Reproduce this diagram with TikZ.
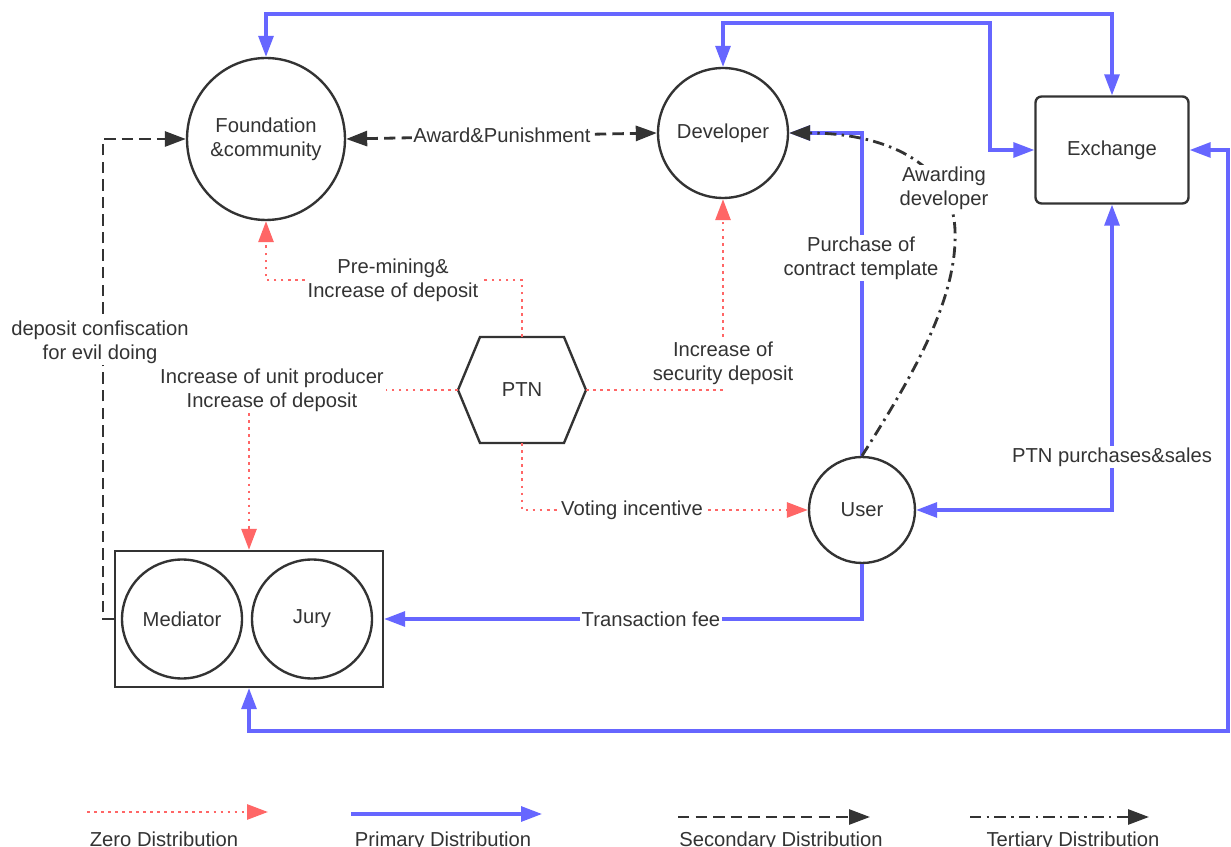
\documentclass[tikz,border=0pt]{standalone}
\usepackage{fontspec}
\setmainfont{Liberation Sans}
\usetikzlibrary{arrows.meta,shapes.geometric}
\definecolor{zred}{HTML}{FF6666}
\definecolor{pblue}{HTML}{6666FF}
\definecolor{ink}{HTML}{333333}
\begin{document}
\begin{tikzpicture}[x=0.02cm,y=-0.02cm,
  font=\fontsize{11.5}{13.6}\selectfont, text=ink,
  >={Triangle[length=0.42cm,width=0.3cm]},
  zero/.style={draw=zred, line width=1.6pt, dash pattern=on 1.6pt off 2.4pt},
  prim/.style={draw=pblue, line width=1.75pt},
  sec/.style={draw=ink, line width=1.6pt, dash pattern=on 6.5pt off 3.5pt},
  ter/.style={draw=ink, line width=1.6pt, dash pattern=on 6.5pt off 3pt on 1.4pt off 3pt},
  ent/.style={draw=ink, line width=1.35pt, align=center},
  lbl/.style={fill=white, inner sep=1pt, align=center}]
\useasboundingbox (0,0) rectangle (1231,847);
\clip (0,0) rectangle (1231,847);
\fill[white] (0,0) rectangle (1231,847);

% entities
\node[ent, ellipse, inner sep=0pt, minimum width=3.16cm, minimum height=3.24cm] (fnd) at (266,139) {Foundation\\\&community};
\node[ent, circle, minimum size=2.6cm] (dev) at (723,133) {Developer};
\node[ent, rounded corners=0.12cm, minimum width=3.06cm, minimum height=2.14cm] (exch) at (1112,150) {Exchange};
\node[minimum width=2.56cm, minimum height=2.12cm, inner sep=0] (ptn) at (522,390) {PTN};
\draw[ent] (458,390) -- (480,337) -- (564,337) -- (586,390) -- (564,443) -- (480,443) -- cycle;
\node[ent, circle, minimum size=2.12cm] (user) at (862,510) {User};
\node[ent, minimum width=5.36cm, minimum height=2.72cm] (box) at (249,619) {};
\node[ent, ellipse, inner sep=0pt, minimum width=2.4cm, minimum height=2.38cm] (med) at (182,619) {Mediator};
\node[ent, ellipse, inner sep=0pt, minimum width=2.4cm, minimum height=2.38cm] (jury) at (312,619) {Jury};

% primary distribution (blue)
\draw[prim,<->] (fnd.north) |- (1112,14) -- (exch.north);
\draw[prim,<->] (dev.north) |- (990,23) |- (exch.west);
\draw[prim,<->] (exch.east) -| (1228,731) -| (box.south);
\draw[prim,<->] (exch.south) |- (user.east);
\node[lbl] (lps) at (1112,457) {PTN purchases\&sales};
\draw[prim,->] (user.north) |- (dev.east);
\node[lbl] (lpc) at (861,258) {Purchase of\\contract template};
\draw[prim,->] (user.south) |- (box.east);
\node[lbl] (ltf) at (651,619) {Transaction fee};

% tertiary distribution
\draw[ter,->] (user.north) .. controls (910,380) and (958,300) .. (955,230)
   .. controls (952,160) and (880,133) .. (dev.east);
\node[lbl] (lad) at (944,188) {Awarding\\developer};

% secondary distribution
\draw[sec,<->] (fnd.east) -- (dev.west);
\node[lbl] (lap) at (502,135) {Award\&Punishment};
\draw[sec,->] (box.west) -- (103,619) |- (fnd.west);
\node[lbl] (ldc) at (100,342) {deposit confiscation\\for evil doing};

% zero distribution (red)
\draw[zero,->] (ptn.north) -- (522,280) -| (fnd.south);
\node[lbl] (lpm) at (393,280) {Pre-mining\&\\Increase of deposit};
\draw[zero,->] (ptn.east) -| (dev.south);
\node[lbl] (lsd) at (723,363) {Increase of\\security deposit};
\draw[zero,->] (ptn.west) -| (box.north);
\node[lbl] (lup) at (272,390) {Increase of unit producer\\Increase of deposit};
\draw[zero,->] (ptn.south) |- (user.west);
\node[lbl] (lvi) at (632,510) {Voting incentive};

% legend
\coordinate (za) at (87,812);  \coordinate (zb) at (268,812);
\coordinate (pa) at (351,814); \coordinate (pb) at (542,814);
\coordinate (sa) at (678,817); \coordinate (sb) at (870,817);
\coordinate (ta) at (970,817); \coordinate (tb) at (1149,817);
\draw[zero,->] (za) -- (zb);
\draw[prim,->] (pa) -- (pb);
\draw[sec,->] (sa) -- (sb);
\draw[ter,->] (ta) -- (tb);
\node[anchor=base] (lz) at (164,846) {Zero Distribution};
\node[anchor=base] (lp) at (443,846) {Primary Distribution};
\node[anchor=base] (ls) at (781,846) {Secondary Distribution};
\node[anchor=base] (lt) at (1073,846) {Tertiary Distribution};
\end{tikzpicture}
\end{document}
